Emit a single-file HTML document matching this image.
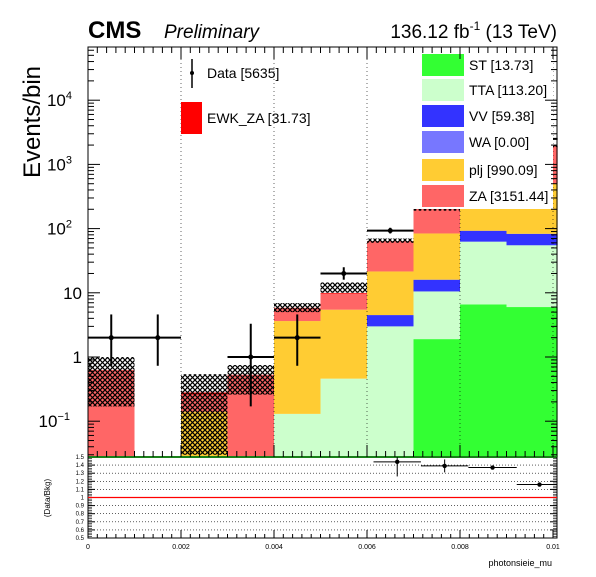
<!DOCTYPE html>
<html><head><meta charset="utf-8"><style>
body{margin:0;background:#fff;}
svg text{font-family:"Liberation Sans",sans-serif;}
</style></head><body>
<svg id="c" width="596" height="572" xmlns="http://www.w3.org/2000/svg">
<defs>
<pattern id="hatch" width="5" height="5" patternUnits="userSpaceOnUse">
<path d="M0,0 L5,5 M5,0 L0,5" stroke="#000" stroke-width="1.2"/>
</pattern>
</defs>
</svg>
<script>
const binEdges=[0,0.001,0.002,0.003,0.004,0.005,0.006,0.007,0.008,0.009,0.0101];
const ratioEdges=[0.00014,0.00116,0.00218,0.0032,0.00422,0.00524,0.00614,0.00716,0.00818,0.00922,0.0102];
const procNames=["ST","TTA","VV","WA","plj","ZA","EWK_ZA"];
const procLabels=["ST [13.73]","TTA [113.20]","VV [59.38]","WA [0.00]","plj [990.09]","ZA [3151.44]","EWK_ZA [31.73]"];
const procColors=["#33ff33","#ccffcc","#3333ff","#7777ff","#ffcc33","#ff6666","#ff0000"];
const ST=[0,0,0,0,0,0,0,1.9,6.6,6];
const TTA=[0,0,0,0,0.13,0.46,3.0,8.6,56,49];
const VV=[0,0,0,0,0,0,1.5,5.5,30,28];
const WA=[0,0,0,0,0,0,0,0,0,0];
const plj=[0,0,0.14,0,3.5,5.0,17,68,420,420];
const ZA=[0.63,0,0.12,0.53,2.1,4.3,41,116,800,1440];
const EWK=[0,0,0.02,0,0.1,0.2,1,3,10,15];
const errLo=[0.17,0,0.03,0.26,5.0,10,60,190,1200,1850];
const errHi=[1.0,0,0.54,0.75,6.9,14.5,70,215,1350,2000];
const dataVals=[2,2,0,1,2,20,93,330,1300,2500];
const dataLo=[0.73,0.73,0,0.17,0.73,16,84,310,1260,2450];
const dataHi=[4.6,4.6,0,3.3,4.6,25,103,350,1340,2550];
const ratioVals=[null,null,null,null,null,null,1.44,1.39,1.37,1.16];
const ratioErr=[0,0,0,0,0,0,0.18,0.08,0.02,0.02];
const xTicks=[0,0.002,0.004,0.006,0.008,0.01];
const xTickLabels=["0","0.002","0.004","0.006","0.008","0.01"];
const ratioTicks=[0.5,0.6,0.7,0.8,0.9,1,1.1,1.2,1.3,1.4,1.5];

const NS="http://www.w3.org/2000/svg";
const svg=document.getElementById('c');
const L=88,R=557,T=47,B=457,RT=457,RB=538;
const x=v=>L+v*46.5/0.001;
const y=v=>357-Math.log10(v)*64.2;
const yMin=Math.pow(10,(357-B)/64.2);
const yr=v=>RB-(v-0.5)*81;
function el(t,a,p){const e=document.createElementNS(NS,t);for(const k in a)e.setAttribute(k,a[k]);(p||svg).appendChild(e);return e;}
function txt(s,a){const e=el('text',a);e.textContent=s;return e;}

const series=[ST,TTA,VV,WA,plj,ZA,EWK];
const gS=el('g',{});


for(let b=0;b<10;b++){
  let cum=0;
  for(let s=0;s<series.length;s++){
    const v=series[s][b]; if(!v) continue;
    const lo=Math.max(cum,yMin), hi=cum+v; cum=hi;
    const y1=Math.max(y(hi),T), y0=Math.min(y(lo),B);
    if(y0<=y1) continue;
    const r=el('rect',{x:x(binEdges[b]),y:y1,width:x(binEdges[b+1])-x(binEdges[b]),height:y0-y1,fill:procColors[s]},gS);
    
    
  }
  if(errHi[b]){
    const y1=y(errHi[b]), y0=Math.min(y(Math.max(errLo[b],yMin)),B);
    const h=el('rect',{x:x(binEdges[b]),y:y1,width:x(binEdges[b+1])-x(binEdges[b]),height:y0-y1,fill:'url(#hatch)'},gS);
    
    
  }
}
for(const t of xTicks){ if(t>0) el('line',{x1:x(t),x2:x(t),y1:T,y2:B,stroke:'#000','stroke-width':0.6,'stroke-dasharray':'1,3'});}
const gD=el('g',{});


for(let b=0;b<10;b++){
  const v=dataVals[b]; if(!v) continue;
  const cx=(x(binEdges[b])+x(binEdges[b+1]))/2, cy=y(v);
  el('line',{x1:x(binEdges[b]),x2:x(binEdges[b+1]),y1:cy,y2:cy,stroke:'#000','stroke-width':2},gD);
  el('line',{x1:cx,x2:cx,y1:y(dataHi[b]),y2:Math.min(y(dataLo[b]),B),stroke:'#000','stroke-width':2},gD);
  const p=el('circle',{cx:cx,cy:cy,r:2.5,fill:'#000'},gD);
  
  
}
el('rect',{x:412,y:48,width:141,height:161,fill:'#fff'});
const rowsY=[65,90,116,142,170,196];
for(let i=0;i<6;i++){
  const r=el('rect',{x:422,y:rowsY[i]-11,width:42,height:22,fill:procColors[i]});
  
  
  const t=txt(procLabels[i],{x:469,y:rowsY[i]+5,'font-size':14});
  
  
}
el('line',{x1:192,x2:192,y1:59,y2:88,stroke:'#000','stroke-width':1.5});
el('circle',{cx:192,cy:73,r:2,fill:'#000'});
const ld=txt("Data [5635]",{x:207,y:78,'font-size':14});


el('rect',{x:181,y:102,width:21,height:32,fill:'#ff0000'});
const le=txt(procLabels[6],{x:207,y:123,'font-size':14});


el('rect',{x:L,y:T,width:R-L,height:B-T,fill:'none',stroke:'#000','stroke-width':1});
el('line',{x1:L,x2:R,y1:B,y2:B,stroke:'#33ff33','stroke-width':2});
el('rect',{x:L,y:RT,width:R-L,height:RB-RT,fill:'none',stroke:'#000','stroke-width':1});
for(let d=-2;d<=4;d++){for(let m=1;m<10;m++){const v=m*Math.pow(10,d);const yy=y(v);if(yy<T||yy>B)continue;const len=m==1?12:6;
 el('line',{x1:L,x2:L+len,y1:yy,y2:yy,stroke:'#000','stroke-width':1});el('line',{x1:R-len,x2:R,y1:yy,y2:yy,stroke:'#000','stroke-width':1});}}
const yLab=[[4,"10",'4'],[3,"10",'3'],[2,"10",'2'],[1,"10",null],[0,"1",null],[-1,"10",'−1']];
for(const [d,b,e] of yLab){const yy=y(Math.pow(10,d));
  const t=el('text',{x:e?80:82,y:yy+6,'font-size':17,'text-anchor':'end'});
  
  
  if(e){t.setAttribute('x',e.length>1?70:72);t.textContent=b;const s=el('tspan',{dy:-7,'font-size':11},t);s.textContent=e;}else t.textContent=b;}
for(let i=0;i<=50;i++){const v=i*0.0002;const xx=x(v);if(xx>R)break;const major=i%10==0;const len=major?12:6;
 el('line',{x1:xx,x2:xx,y1:B-len,y2:B,stroke:'#000','stroke-width':1});el('line',{x1:xx,x2:xx,y1:T,y2:T+len,stroke:'#000','stroke-width':1});
 el('line',{x1:xx,x2:xx,y1:RB-(major?8:4),y2:RB,stroke:'#000','stroke-width':1});}
xTicks.forEach((t,i)=>{const e=txt(xTickLabels[i],{x:x(t),y:549,'font-size':7,'text-anchor':'middle'});
 });
ratioTicks.forEach(v=>{const yy=yr(v);
 el('line',{x1:L,x2:R,y1:yy,y2:yy,stroke:'#000','stroke-width':0.6,'stroke-dasharray':'1,2'});
 el('line',{x1:L,x2:L+7,y1:yy,y2:yy,stroke:'#000','stroke-width':1});el('line',{x1:R-7,x2:R,y1:yy,y2:yy,stroke:'#000','stroke-width':1});
 const t=txt(String(v),{x:84,y:yy+2,'font-size':6,'text-anchor':'end'});
 });
for(let v=0.5;v<1.5;v+=0.02){el('line',{x1:L,x2:L+4,y1:yr(v),y2:yr(v),stroke:'#000','stroke-width':0.6});el('line',{x1:R-4,x2:R,y1:yr(v),y2:yr(v),stroke:'#000','stroke-width':0.6});}
const ref=el('line',{x1:L,x2:R,y1:yr(1),y2:yr(1),stroke:'#ff0000','stroke-width':1.2});


for(let b=0;b<10;b++){const v=ratioVals[b];if(v==null)continue;
 const x0=x(ratioEdges[b]), x1=Math.min(x(ratioEdges[b+1]),R), cx=(x(ratioEdges[b])+x(ratioEdges[b+1]))/2;
 el('line',{x1:x0,x2:x1,y1:yr(v),y2:yr(v),stroke:'#000','stroke-width':1});
 el('line',{x1:cx,x2:cx,y1:Math.max(yr(v+ratioErr[b]),RT),y2:yr(v-ratioErr[b]),stroke:'#000','stroke-width':1});
 const p=el('circle',{cx:cx,cy:yr(v),r:2.2,fill:'#000'});
 }
const c1=txt("CMS",{x:88,y:38,'font-size':24,'font-weight':'bold'});
const c2=txt("Preliminary",{x:164,y:38,'font-size':19,'font-style':'italic'});
const lu=el('text',{x:557,y:38,'font-size':19,'text-anchor':'end'});
lu.innerHTML='136.12 fb<tspan dy="-8" font-size="12">-1</tspan><tspan dy="8"> (13 TeV)</tspan>';
const yt=txt("Events/bin",{x:0,y:0,'font-size':24,transform:'translate(40,122) rotate(-90)','text-anchor':'middle'});

const rt=txt("(Data/Bkg)",{x:0,y:0,'font-size':8,transform:'translate(50,498) rotate(-90)','text-anchor':'middle'});

const xt=txt("photonsieie_mu",{x:552,y:566,'font-size':9,'text-anchor':'end'});

</script>
</body></html>
